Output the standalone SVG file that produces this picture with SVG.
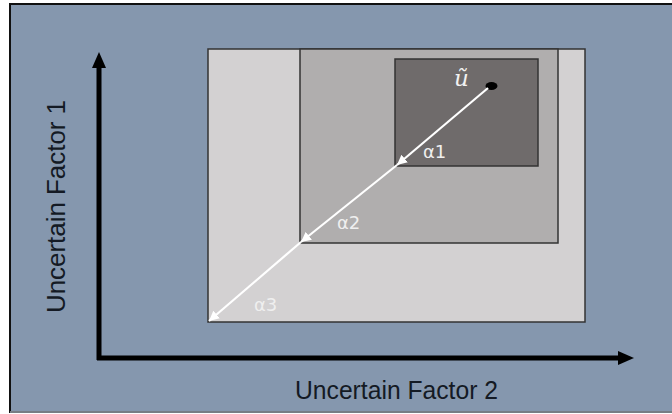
<svg xmlns="http://www.w3.org/2000/svg" width="672" height="414" viewBox="0 0 672 414">
<defs>
<style>
.axis{stroke:#000;stroke-width:5;fill:none}
.ray{stroke:#fff;stroke-width:2.2;fill:none}
.lbl{font-family:"Liberation Sans",Arial,sans-serif;font-size:25px;fill:#141a24}
.alpha{font-family:"DejaVu Sans","Liberation Sans",sans-serif;font-size:18px;fill:#efefef}
.box{stroke:#333;stroke-width:1.5}
</style>
<marker id="wh" viewBox="0 0 10 10" refX="10" refY="5" markerWidth="10" markerHeight="10" markerUnits="userSpaceOnUse" orient="auto"><path d="M0,0 L10,5 L0,10 z" fill="#fff"/></marker>
<marker id="axh" viewBox="0 0 16 14" refX="2" refY="7" markerWidth="16" markerHeight="14" markerUnits="userSpaceOnUse" orient="auto"><path d="M0,0 L16,7 L0,14 z" fill="#000"/></marker>
</defs>
<rect x="0" y="0" width="672" height="414" fill="#fff"/>
<rect x="10" y="4" width="664" height="408" fill="#8597ae" stroke="#111" stroke-width="2"/>
<line x1="10" y1="412" x2="672" y2="412" stroke="#9aa3ad" stroke-width="1.5"/>
<g id="region-a3"><rect class="box" x="208" y="49" width="377" height="273" fill="#d3d1d2"/></g>
<g id="region-a2"><rect class="box" x="300" y="49" width="258" height="194" fill="#b0aeae"/></g>
<g id="region-a1"><rect class="box" x="395" y="59" width="143" height="107" fill="#6f6b6b"/></g>
<g id="point-u">
<ellipse cx="491.5" cy="86" rx="6" ry="4" fill="#000"/>
<text x="454" y="86" font-family="'DejaVu Serif','Liberation Serif',serif" font-style="italic" font-size="23" fill="#f2f2f2">ũ</text>
</g>
<g id="connectors">
<line class="ray" x1="488" y1="88" x2="397" y2="165" marker-end="url(#wh)"/>
<line class="ray" x1="397" y1="165" x2="301" y2="242" marker-end="url(#wh)"/>
<line class="ray" x1="301" y1="242" x2="209" y2="321" marker-end="url(#wh)"/>
<line class="axis" x1="99" y1="360" x2="99" y2="66" marker-end="url(#axh)"/>
<line class="axis" x1="97" y1="358" x2="620" y2="358" marker-end="url(#axh)"/>
</g>
<text class="alpha" x="423" y="158">α1</text>
<text class="alpha" x="337" y="229">α2</text>
<text class="alpha" x="254" y="311">α3</text>
<text class="lbl" x="295" y="399" textLength="203" lengthAdjust="spacingAndGlyphs">Uncertain Factor 2</text>
<text class="lbl" transform="translate(65,313) rotate(-90)" textLength="213" lengthAdjust="spacingAndGlyphs">Uncertain Factor 1</text>
</svg>
